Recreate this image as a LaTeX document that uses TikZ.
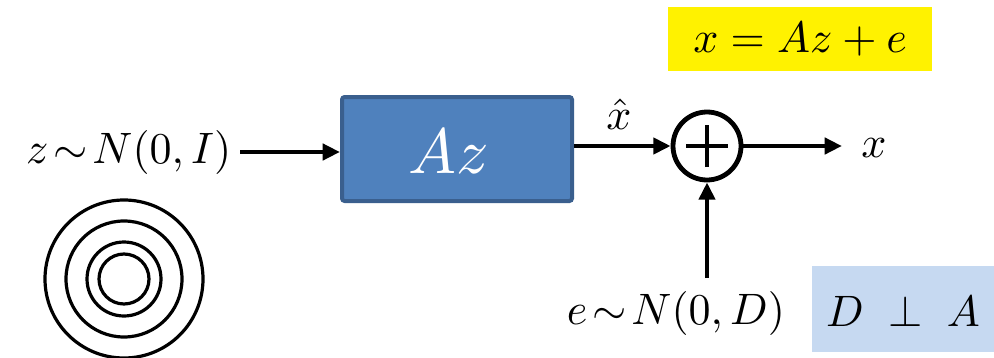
\documentclass[tikz,border=0pt]{standalone}
\usetikzlibrary{arrows.meta,calc}
\definecolor{boxfill}{HTML}{4F81BD}
\definecolor{boxline}{HTML}{3A5F8E}
\definecolor{lightblue}{HTML}{C6D9F1}
\begin{document}
\begin{tikzpicture}[x=0.75pt,y=-0.75pt,
  lbl/.style={inner sep=0pt,scale=3.3},
  arr/.style={line width=3.6pt,-{Triangle[length=13pt,width=12pt]}},
  ring/.style={line width=2.4pt}]
\useasboundingbox (0,0) rectangle (994,357);
% yellow equation
\node[fill=yellow,minimum width=264*0.75pt,minimum height=64*0.75pt,inner sep=0pt] (eq) at (800,39) {};
\node[lbl] at (eq) {$x = Az + e$};
% input
\node[lbl,anchor=east] (z) at (232,152) {$z\!\sim\! N(0,I)$};
% Az box
\node[fill=boxfill,draw=boxline,line width=3pt,rounded corners=2pt,minimum width=230*0.75pt,minimum height=104*0.75pt,inner sep=0pt] (A) at (457,149) {};
\node[inner sep=0pt,text=white,scale=4.8] at (449,152) {$Az$};
% sum
\node[draw,circle,line width=3.6pt,minimum size=68*0.75pt,inner sep=0pt] (s) at (707,146) {};
\draw[line width=2.6pt] ([xshift=-21*0.75pt]s.center) -- ([xshift=21*0.75pt]s.center)
  ([yshift=-21*0.75pt]s.center) -- ([yshift=21*0.75pt]s.center);
% output
\coordinate (o) at (842,146);
\node[lbl] (x) at (874,148) {$x$};
% noise
\node[lbl] (e) at (676,313) {$e\!\sim\! N(0,D)$};
\coordinate (eb) at (707,278);
% D perp A
\node[fill=lightblue,minimum width=182*0.75pt,minimum height=86*0.75pt,inner sep=0pt] (dp) at (903,309) {};
\node[lbl] at (903,311) {$D\;\perp\;A$};
% arrows
\coordinate (zs) at ($(z.east)+(8,0)$);
\draw[arr] (zs) -- (A.west |- zs);
\coordinate (ao) at (A.east |- s.center);
\draw[arr] (ao) -- (s.west);
\node[lbl] (xh) at (619,114) {$\hat{x}$};
\draw[arr] (s.east) -- (o);
\draw[arr] (eb) -- (s.south);
% concentric circles
\coordinate (c) at (124,279);
\draw[ring] (c) circle[radius=79*0.75pt];
\draw[ring] (c) circle[radius=58*0.75pt];
\draw[ring] (c) circle[radius=37*0.75pt];
\draw[ring] (c) circle[radius=25*0.75pt];
\end{tikzpicture}
\end{document}
